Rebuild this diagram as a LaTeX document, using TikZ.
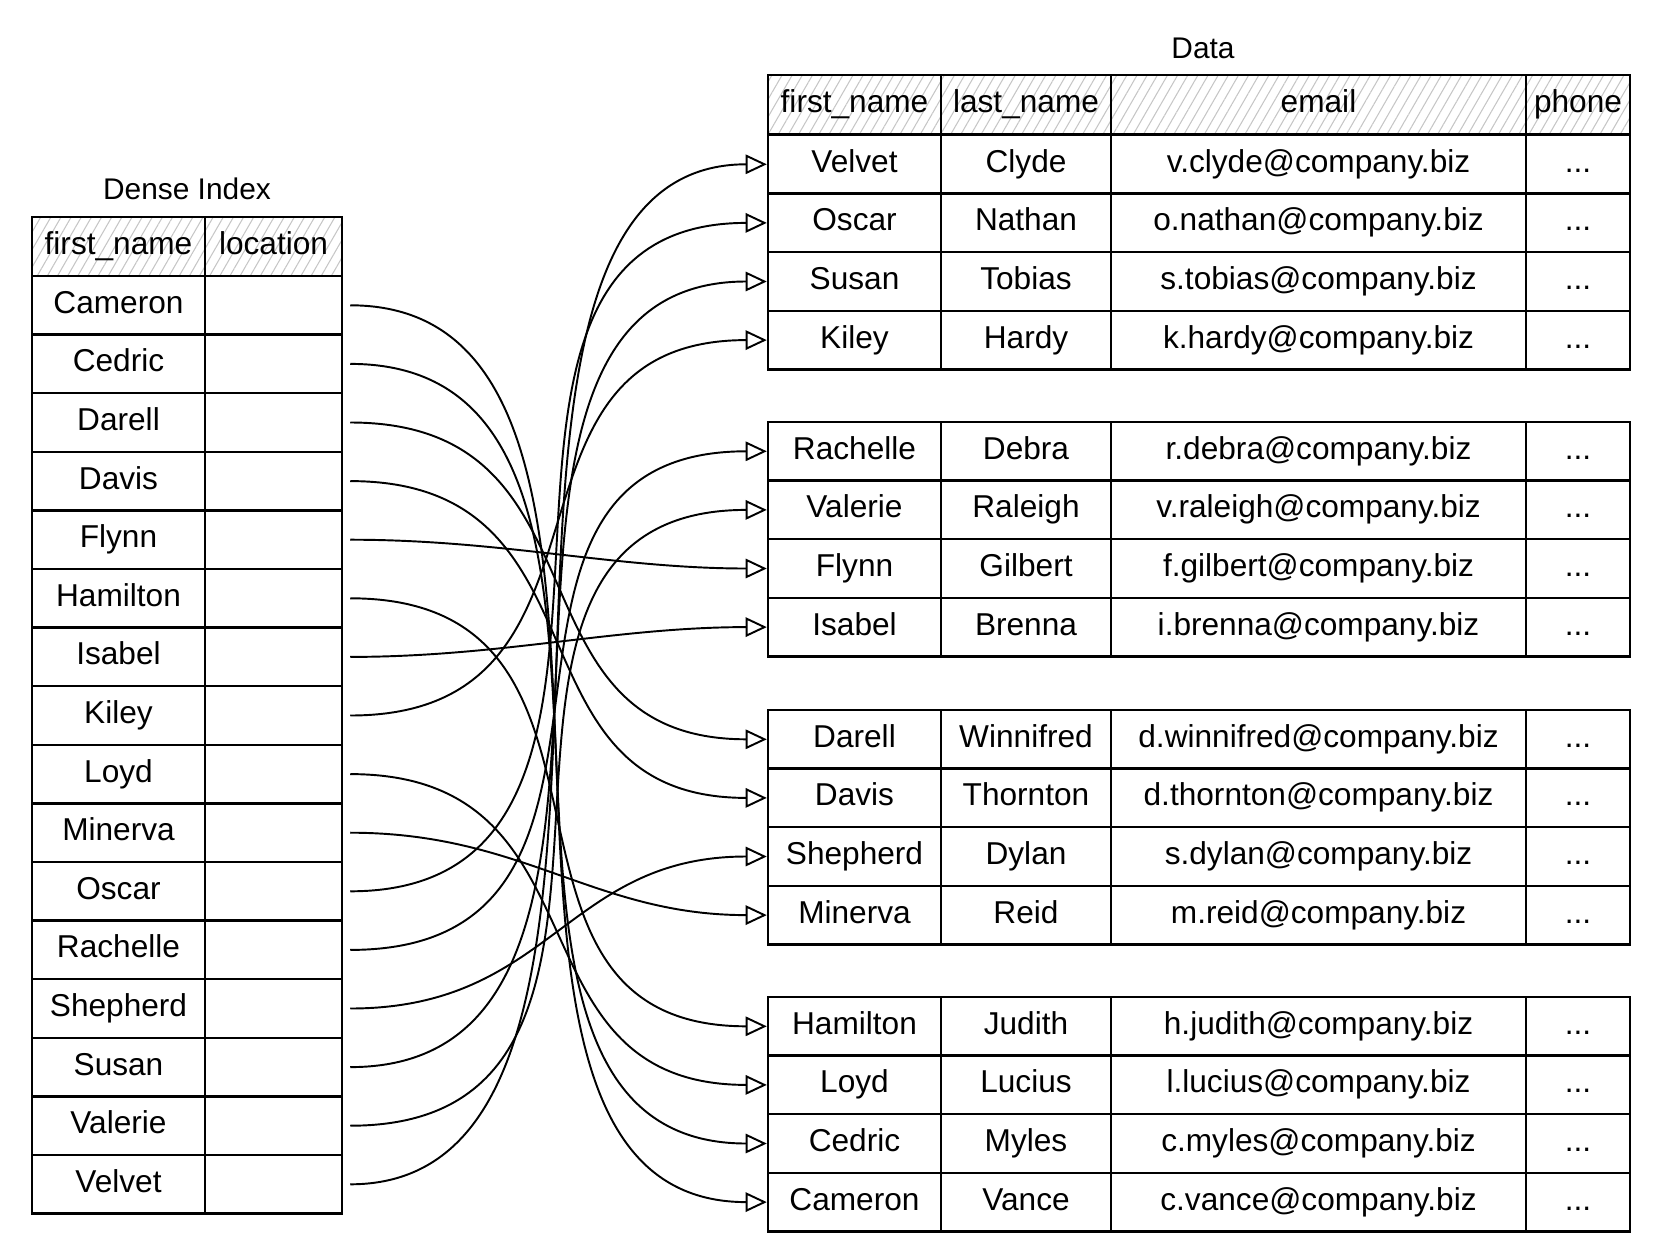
\documentclass[tikz,border=0pt]{standalone}
\usepackage{fontspec}
\setmainfont{Liberation Sans}
\usepackage{tikz}
\usetikzlibrary{arrows.meta, patterns.meta}

\begin{document}
\begin{tikzpicture}[
        x=0.02cm, y=-0.02cm,
        cell/.style={draw, line width=1.4pt, minimum height=1.172cm, inner sep=0pt,
                     text height=13pt, text depth=4pt, font=\fontsize{18}{20}\selectfont},
        head/.style={cell, pattern={Lines[angle=60, distance=5pt, line width=0.6pt]}, pattern color=gray!45},
        wname/.style={minimum width=3.46cm},
        wloc/.style={minimum width=2.74cm},
        wlast/.style={minimum width=3.40cm},
        wmail/.style={minimum width=8.30cm},
        wphone/.style={minimum width=2.08cm},
        title/.style={font=\fontsize{17}{19}\selectfont},
        link/.style={-{Triangle[open, length=12pt, width=11pt, line width=1.1pt]}, line width=1.1pt}
    ]
    \useasboundingbox (0,0) rectangle (1662,1254);

    % ---- Left: dense index ----
    \node[title] (index-title) at (187,189) {Dense Index};
    \node[head, wname] (ih-name) at (118.5,246.5) {first\_name};
    \node[head, wloc] (ih-loc) at (273.5,246.5) {location};
    \foreach \fn/\y in {Cameron/305.3, Cedric/363.9, Darell/422.5, Davis/481.1,
                        Flynn/539.7, Hamilton/598.3, Isabel/656.9, Kiley/715.5,
                        Loyd/774.1, Minerva/832.7, Oscar/891.3, Rachelle/949.9,
                        Shepherd/1008.5, Susan/1067.1, Valerie/1125.7, Velvet/1184.3} {
        \node[cell, wname] (i-\fn) at (118.5,\y) {\fn};
        \node[cell, wloc] (loc-\fn) at (273.5,\y) {};
    }

    % ---- Right: data table, four blocks ----
    \node[title] (data-title) at (1203,48) {Data};
    \node[head, wname] (dh-first) at (854.5,104.5) {first\_name};
    \node[head, wlast] (dh-last) at (1026,104.5) {last\_name};
    \node[head, wmail] (dh-mail) at (1318.5,104.5) {email};
    \node[head, wphone] (dh-phone) at (1578,104.5) {phone};
    \foreach \fn/\ln/\mail/\y in {Velvet/Clyde/v.clyde/164.3, Oscar/Nathan/o.nathan/222.9,
                                  Susan/Tobias/s.tobias/281.5, Kiley/Hardy/k.hardy/340.1,
                                  Rachelle/Debra/r.debra/451.3, Valerie/Raleigh/v.raleigh/509.9,
                                  Flynn/Gilbert/f.gilbert/568.5, Isabel/Brenna/i.brenna/627.1,
                                  Darell/Winnifred/d.winnifred/739.3, Davis/Thornton/d.thornton/797.9,
                                  Shepherd/Dylan/s.dylan/856.5, Minerva/Reid/m.reid/915.1,
                                  Hamilton/Judith/h.judith/1026.3, Loyd/Lucius/l.lucius/1084.9,
                                  Cedric/Myles/c.myles/1143.5, Cameron/Vance/c.vance/1202.1} {
        \node[cell, wname] (d-\fn) at (854.5,\y) {\fn};
        \node[cell, wlast] (dl-\fn) at (1026,\y) {\ln};
        \node[cell, wmail] (dm-\fn) at (1318.5,\y) {\mail @company.biz};
        \node[cell, wphone] (dp-\fn) at (1578,\y) {...};
    }

    % ---- Pointers from index to rows (pull grows with the drop) ----
    \foreach \fn/\pull in {Cameron/370, Cedric/370, Darell/267, Davis/267, Flynn/152,
                           Hamilton/311, Isabel/152, Kiley/290, Loyd/264, Minerva/173,
                           Oscar/370, Rachelle/340, Shepherd/201, Susan/370, Valerie/370, Velvet/370}
        \draw[link] ([xshift=4pt]loc-\fn.east) .. controls +(\pull,0) and +(-\pull,0) .. (d-\fn.west);

\end{tikzpicture}
\end{document}
